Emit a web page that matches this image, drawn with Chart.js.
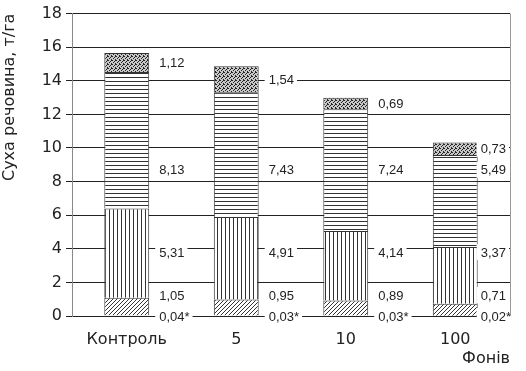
<!DOCTYPE html>
<html>
<head>
<meta charset="utf-8">
<script src="https://cdn.jsdelivr.net/npm/chart.js@4/dist/chart.umd.min.js"></script>
<style>
  html, body { margin: 0; padding: 0; background: #fff; }
  #wrap { width: 526px; height: 371px; }
</style>
</head>
<body>
<div id="wrap"><canvas id="c" width="526" height="371"></canvas></div>
<script>
// Categories and stacked components (dry matter, t/ha)
const categories = ['Контроль', '5', '10', '100'];
const part1 = [0.04, 0.03, 0.03, 0.02];
const part2 = [1.05, 0.95, 0.89, 0.71];
const part3 = [5.31, 4.91, 4.14, 3.37];
const part4 = [8.13, 7.43, 7.24, 5.49];
const part5 = [1.12, 1.54, 0.69, 0.73];
const yTicks = [0, 2, 4, 6, 8, 10, 12, 14, 16, 18];

const AXIS_FONT = '"DejaVu Sans", sans-serif';
const LABEL_FONT = '"Liberation Sans", Arial, sans-serif';
const INK = '#222';

// --- fill patterns ---
function makePattern(size, draw) {
  const c = document.createElement('canvas');
  c.width = size; c.height = size;
  const g = c.getContext('2d');
  g.fillStyle = '#fff';
  g.fillRect(0, 0, size, size);
  draw(g);
  return g.createPattern(c, 'repeat');
}
const patDiag = makePattern(4, g => {
  g.strokeStyle = '#333'; g.lineWidth = 1;
  g.beginPath();
  g.moveTo(-1, 5); g.lineTo(5, -1);
  g.moveTo(-1, 1); g.lineTo(1, -1);
  g.moveTo(3, 5); g.lineTo(5, 3);
  g.stroke();
});
const patVert = makePattern(4, g => {
  g.fillStyle = '#333'; g.fillRect(1, 0, 1, 4);
});
const patHorz = makePattern(4, g => {
  g.fillStyle = '#333'; g.fillRect(0, 1, 4, 1);
});
const patDots = makePattern(4, g => {
  g.fillStyle = '#c8c8c8'; g.fillRect(0, 0, 4, 4);
  g.fillStyle = '#222';
  g.fillRect(0, 0, 1, 1); g.fillRect(2, 1, 1, 1);
  g.fillRect(1, 2, 1, 1); g.fillRect(3, 3, 1, 1);
  g.fillRect(3, 0, 1, 1);
});

const series = [
  { data: part1, fill: '#444', suffix: '*', level: 0 },
  { data: part2, fill: patDiag, suffix: '', level: 1.25 },
  { data: part3, fill: patVert, suffix: '', level: 3.8 },
  { data: part4, fill: patHorz, suffix: '', level: 8.7 },
  { data: part5, fill: patDots, suffix: '', level: null }
];

const datasets = series.map(s => ({
  data: s.data,
  backgroundColor: s.fill,
  borderColor: '#333',
  borderWidth: { top: 1, left: 1, right: 1, bottom: 0 },
  borderSkipped: false,
  categoryPercentage: 1,
  barPercentage: 0.41,
  stack: 's'
}));

const fmt = v => v.toFixed(2).replace('.', ',');

// Value labels to the right of each bar, on a white box that breaks the grid
const valueLabels = {
  id: 'valueLabels',
  afterDatasetsDraw(chart) {
    const ctx = chart.ctx;
    const y = chart.scales.y;
    const area = chart.chartArea;
    ctx.save();
    ctx.font = '13px ' + LABEL_FONT;
    ctx.textBaseline = 'middle';
    ctx.textAlign = 'left';
    series.forEach((s, di) => {
      const meta = chart.getDatasetMeta(di);
      meta.data.forEach((bar, i) => {
        let base = 0;
        for (let k = 0; k < di; k++) base += series[k].data[i];
        const mid = base + s.data[i] / 2;
        const py = y.getPixelForValue(s.level === null ? mid : s.level);
        const right = bar.x + bar.width / 2;
        const last = i === categories.length - 1;
        const tx = right + (last ? 3 : 10);
        const text = fmt(s.data[i]) + s.suffix;
        const w = ctx.measureText(text).width;
        ctx.fillStyle = '#fff';
        ctx.fillRect(tx - 4, py - 8, w + 7, 16);
        ctx.fillStyle = INK;
        ctx.fillText(text, tx, py + 1);
      });
    });
    // right frame of the plot
    ctx.strokeStyle = '#999';
    ctx.lineWidth = 1;
    ctx.beginPath();
    ctx.moveTo(Math.round(area.right) + 0.5, area.top);
    ctx.lineTo(Math.round(area.right) + 0.5, area.bottom);
    ctx.stroke();
    ctx.restore();
  }
};

new Chart(document.getElementById('c'), {
  type: 'bar',
  data: { labels: categories, datasets },
  plugins: [valueLabels],
  options: {
    responsive: false,
    animation: false,
    events: [],
    layout: { padding: { top: 13, right: 16, left: 0, bottom: 0 } },
    plugins: { legend: { display: false }, tooltip: { enabled: false } },
    scales: {
      x: {
        stacked: true,
        grid: { display: false },
        border: { display: true, color: INK, width: 1 },
        ticks: { color: INK, font: { family: AXIS_FONT, size: 16 }, padding: 6 },
        title: {
          display: true, text: 'Фонів', align: 'end',
          color: INK, font: { family: AXIS_FONT, size: 16 }, padding: { top: 0, bottom: 3 }
        },
        afterFit(scale) { scale.height = 55; }
      },
      y: {
        stacked: true,
        min: 0, max: 18,
        afterBuildTicks(scale) { scale.ticks = yTicks.map(v => ({ value: v })); },
        grid: { color: INK, lineWidth: 1, tickLength: 6, drawTicks: true },
        border: { display: true, color: '#888', width: 1 },
        ticks: { color: INK, font: { family: AXIS_FONT, size: 16 }, padding: 4 },
        title: {
          display: true, text: 'Суха речовина, т/га', align: 'end',
          color: INK, font: { family: AXIS_FONT, size: 16 }, padding: { top: 0, bottom: 4 }
        },
        afterFit(scale) { scale.width = 72; }
      }
    }
  }
});
</script>
</body>
</html>
